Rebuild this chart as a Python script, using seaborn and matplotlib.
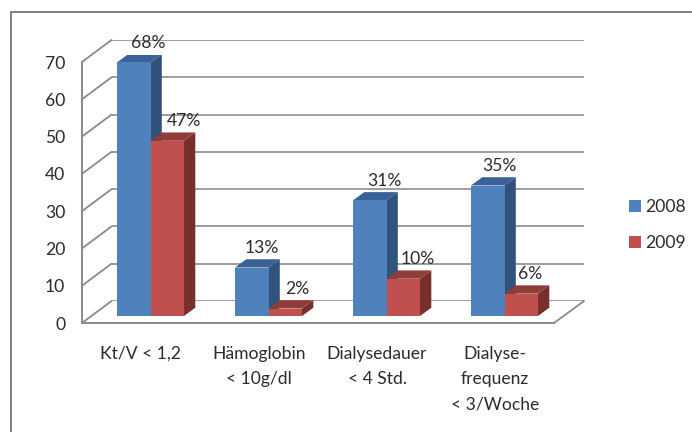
import matplotlib
matplotlib.use("Agg")
import matplotlib.pyplot as plt
import pandas as pd
import seaborn as sns
from matplotlib.lines import Line2D
from matplotlib.patches import Polygon, Rectangle
from matplotlib.transforms import IdentityTransform

categories = ["Kt/V < 1,2", "Hämoglobin\n< 10g/dl", "Dialysedauer\n< 4 Std.", "Dialyse-\nfrequenz\n< 3/Woche"]
values_2008 = [68, 13, 31, 35]
values_2009 = [47, 2, 10, 6]
years = ["2008", "2009"]
y_ticks = [0, 10, 20, 30, 40, 50, 60, 70]

FRONT_COL = {"2008": "#4F81BD", "2009": "#C0504D"}
SIDE_COL = {"2008": "#31527B", "2009": "#772F2D"}
TOP_COL = {"2008": "#3A6296", "2009": "#903C39"}
GREY = "#8A8A8A"
TXT = "#2B2B2B"
W, H = 692, 432

sns.set_theme(style="white")
plt.rcParams["font.family"] = ["Lato", "DejaVu Sans"]
FS = 12.6

fig = plt.figure(figsize=(W / 100, H / 100), dpi=100, facecolor="white")


def plane(left, right, y0, y70, z):
    ax = fig.add_axes([left / W, 1 - y0 / H, (right - left) / W, (y0 - y70) / H], zorder=z)
    ax.set_xlim(-0.5, 3.5)
    ax.set_ylim(0, 70)
    return ax


# outer frame (runs off the right and bottom of the picture)
fig.add_artist(Rectangle((11 / W, -0.05), 1.0, 1.05 - 12 / H, transform=fig.transFigure,
                         fill=False, edgecolor="#808080", linewidth=1.4, zorder=0))

# back wall with gridlines
back = plane(111.5, 584, 301, 40, 1)
back.patch.set_alpha(0)
back.set_yticks(y_ticks)
back.set_xticks([])
back.set_yticklabels([])
back.grid(axis="y", color="#969696", linewidth=1.3)
back.tick_params(left=False)
for s in back.spines.values():
    s.set_visible(False)

# front axis with ticks and labels
front = plane(82, 554, 323, 62, 2)
front.patch.set_alpha(0)
front.set_yticks(y_ticks)
front.set_xticks([-0.5, 0.5, 1.5, 2.5, 3.5])
front.set_xticklabels([])
front.set_xticks(range(len(categories)), labels=categories, minor=True)
front.tick_params(axis="y", direction="out", length=5, width=1.2, color=GREY, labelsize=FS, labelcolor=TXT, pad=7)
front.tick_params(axis="x", which="major", direction="out", length=6, width=1.2, color=GREY)
front.tick_params(axis="x", which="minor", length=0, labelsize=FS, labelcolor=TXT, pad=16.5)
for lab in front.get_xticklabels(minor=True):
    lab.set_linespacing(1.7)
for k, s in front.spines.items():
    s.set_visible(k in ("left", "bottom"))
    s.set_color(GREY)
    s.set_linewidth(1.4)

# bars on the mid plane
bars = plane(91.5, 563.5, 316, 55, 3)
df = pd.DataFrame({
    "category": categories * 2,
    "year": [years[0]] * 4 + [years[1]] * 4,
    "value": values_2008 + values_2009,
})
sns.barplot(data=df, x="category", y="value", hue="year", hue_order=years, palette=FRONT_COL,
            width=0.568, gap=0, saturation=1, errorbar=None, ax=bars, legend=True, linewidth=0)
bars.set_xlim(-0.5, 3.5)
bars.set_ylim(0, 70)

# diagonal floor and wall edges
fig.canvas.draw()
for v in y_ticks:
    a = front.transData.transform((-0.5, v))
    b = back.transData.transform((-0.5, v))
    fig.add_artist(Line2D([a[0], b[0]], [a[1], b[1]], transform=IdentityTransform(),
                          color=GREY, linewidth=1.3, zorder=1.5))
a = front.transData.transform((3.5, 0))
b = back.transData.transform((3.5, 0))
fig.add_artist(Line2D([a[0], b[0]], [a[1], b[1]], transform=IdentityTransform(),
                      color=GREY, linewidth=1.3, zorder=1.5))

# extruded sides of the bars, built from the drawn rectangles
DX, DY = 11.3, 8.3
rects = [p for p in bars.patches if p.get_height() > 0]
for i, rect in enumerate(rects):
    year = years[0] if i < 4 else years[1]
    x0, y0 = bars.transData.transform((rect.get_x(), 0))
    x1, y1 = bars.transData.transform((rect.get_x() + rect.get_width(), rect.get_height()))
    rect.set_zorder(4)
    rect.set_linewidth(0)
    bars.add_patch(Polygon([(x1, y0), (x1 + DX, y0 + DY), (x1 + DX, y1 + DY), (x1, y1)],
                           transform=IdentityTransform(), facecolor=SIDE_COL[year],
                           edgecolor="none", linewidth=0, zorder=3 if i < 4 else 5))
    bars.add_patch(Polygon([(x0, y1), (x0 + DX, y1 + DY), (x1 + DX, y1 + DY), (x1, y1)],
                           transform=IdentityTransform(), facecolor=TOP_COL[year],
                           edgecolor="none", linewidth=0, zorder=3 if i < 4 else 5))

# value labels
label_shift = [14.5, 10.5, 14.5, 12, 17, 12, 14, 9]
for rect, shift in zip(rects, label_shift):
    bars.annotate(f"{int(rect.get_height())}%",
                  (rect.get_x() + rect.get_width() / 2, rect.get_height()),
                  xytext=(shift * 0.72, 19.5 * 0.72), textcoords="offset points",
                  ha="center", va="center", fontsize=FS, color=TXT, zorder=6)

# legend
handles, labels = bars.get_legend_handles_labels()
bars.get_legend().remove()
leg = fig.legend(handles, labels, loc="center left", bbox_to_anchor=(629 / W, 1 - 225 / H),
                 frameon=False, fontsize=FS, handlelength=0.68, handleheight=0.68,
                 handletextpad=0.25, labelspacing=1.15, labelcolor=TXT, borderpad=0, borderaxespad=0)

bars.axis("off")
fig.savefig("out.png", dpi=100, facecolor="white")
